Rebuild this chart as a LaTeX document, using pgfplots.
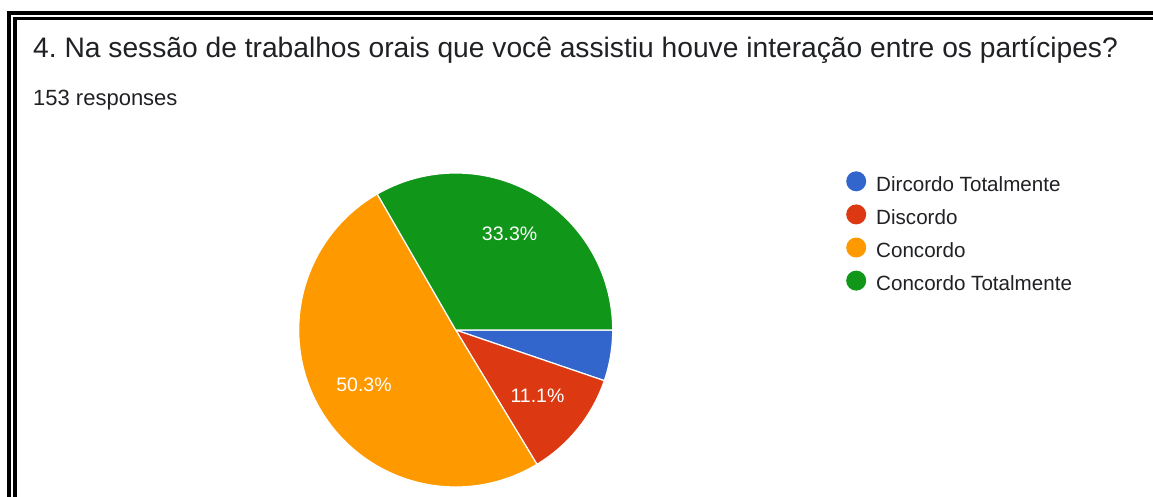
\documentclass[border=0pt]{standalone}
\usepackage{fontspec}
\setmainfont{Liberation Sans}
\usepackage{pgfplots}
\pgfplotsset{compat=1.18}
\frenchspacing
\definecolor{gblue}{HTML}{3366CC}
\definecolor{gred}{HTML}{DC3912}
\definecolor{gorange}{HTML}{FF9900}
\definecolor{ggreen}{HTML}{109618}
\definecolor{tgray}{HTML}{202124}
% counts (153 responses)
\def\nDT{8}   % Dircordo Totalmente
\def\nD{17}   % Discordo
\def\nC{77}   % Concordo
\def\nCT{51}  % Concordo Totalmente
\def\nTot{153}
\begin{document}
\begin{tikzpicture}[x=1pt,y=1pt]
\path[use as bounding box] (0,0) rectangle (1153,497);
\fill[white] (0,0) rectangle (1153,497);
\draw[line width=4pt] (9,0) -- (9,484) -- (1153,484);
\draw[line width=3.5pt] (15,0) -- (15,478.5) -- (1153,478.5);
\node[anchor=base west, text=tgray, inner sep=0pt, font=\fontsize{28.2}{32}\selectfont] at (33,439) {4. Na sessão de trabalhos orais que você assistiu houve interação entre os partícipes?};
\node[anchor=base west, text=tgray, inner sep=0pt, font=\fontsize{22}{26}\selectfont] at (33,391) {153 responses};
\coordinate (pc) at (298.7,10);
\pgfmathsetmacro{\aG}{\nCT/\nTot*360}
\pgfmathsetmacro{\aO}{\aG+\nC/\nTot*360}
\pgfmathsetmacro{\aR}{\aO+\nD/\nTot*360}
\begin{axis}[at={(pc)}, anchor=south west, width=314pt, height=314pt,
  scale only axis, hide axis, xmin=-1, xmax=1, ymin=-1, ymax=1, clip=false,
  legend style={at={(axis cs:2.486,1.012)}, anchor=north west, draw=none, fill=none,
    inner sep=0pt, row sep=8.1pt, font=\fontsize{20.6}{24}\selectfont,
    nodes={inner sep=0pt, text height=15pt, text depth=5pt, text=tgray},
    column sep=10pt},
  legend cell align=left,
  legend image code/.code={\fill[#1,draw=none] (10pt,5pt) circle (10pt);}]
\addplot[fill=gblue, draw=white, line width=1.2pt, domain=\aR:360, samples=20, variable=\t] ({cos(\t)},{sin(\t)}) -- (axis cs:0,0) -- cycle;
\addlegendentry{Dircordo Totalmente}
\addplot[fill=gred, draw=white, line width=1.2pt, domain=\aO:\aR, samples=30, variable=\t] ({cos(\t)},{sin(\t)}) -- (axis cs:0,0) -- cycle;
\addlegendentry{Discordo}
\addplot[fill=gorange, draw=white, line width=1.2pt, domain=\aG:\aO, samples=100, variable=\t] ({cos(\t)},{sin(\t)}) -- (axis cs:0,0) -- cycle;
\addlegendentry{Concordo}
\addplot[fill=ggreen, draw=white, line width=1.2pt, domain=0:\aG, samples=80, variable=\t] ({cos(\t)},{sin(\t)}) -- (axis cs:0,0) -- cycle;
\addlegendentry{Concordo Totalmente}
\node[text=white, font=\fontsize{19.5}{23}\selectfont] at (axis cs:0.343,0.611) {33.3\%};
\node[text=white, font=\fontsize{19.5}{23}\selectfont] at (axis cs:-0.584,-0.347) {50.3\%};
\node[text=white, font=\fontsize{19.5}{23}\selectfont] at (axis cs:0.521,-0.417) {11.1\%};
\end{axis}
\end{tikzpicture}
\end{document}
